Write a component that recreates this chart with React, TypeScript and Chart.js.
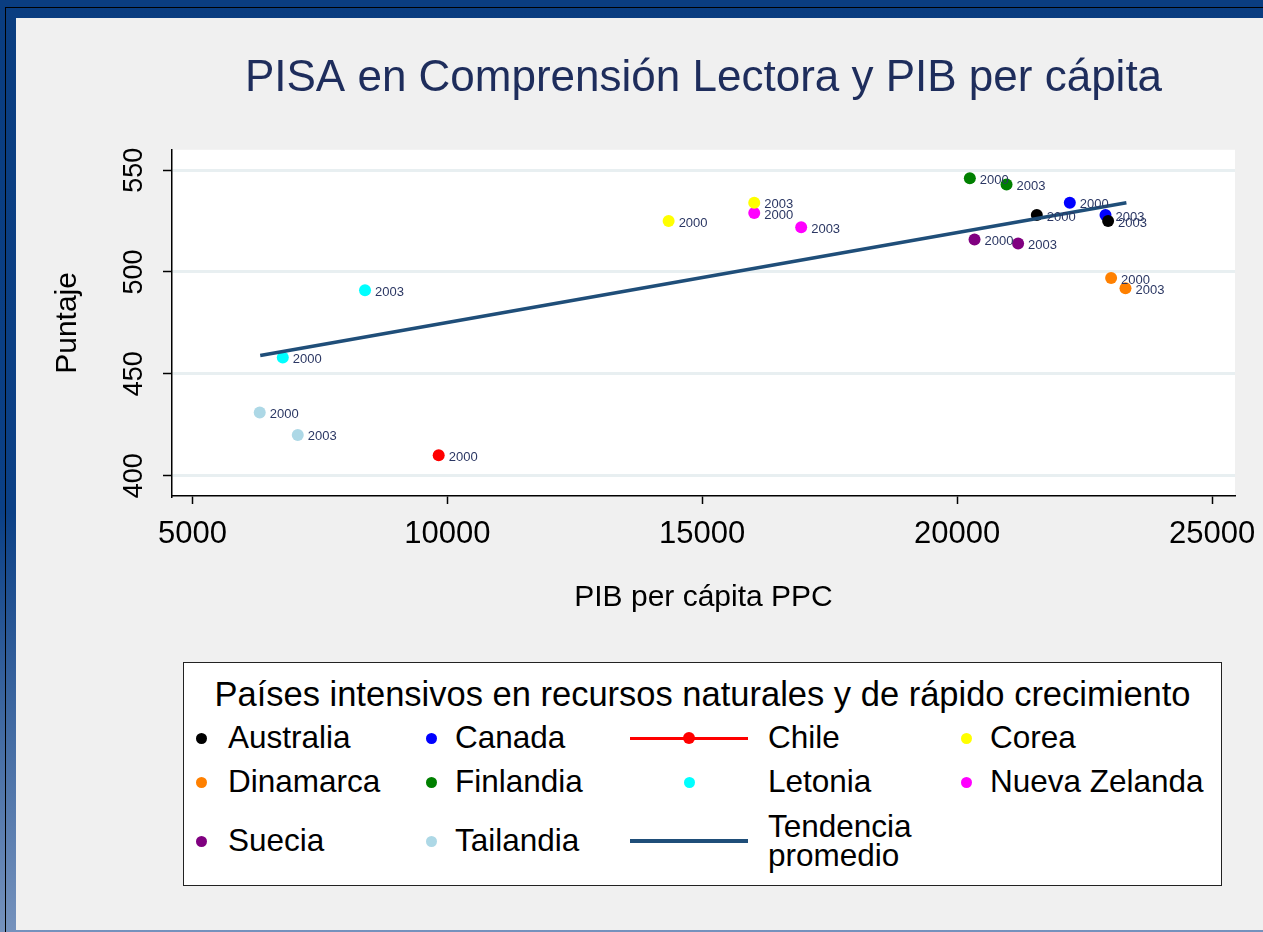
import React, { useEffect, useRef } from 'react';
import { Chart, registerables } from 'chart.js';

Chart.register(...registerables);

// ---------- data ----------
const countries = ['Australia', 'Canada', 'Chile', 'Corea', 'Dinamarca', 'Finlandia', 'Letonia', 'Nueva Zelanda', 'Suecia', 'Tailandia'];
const countryColors = ['#000000', '#0000ff', '#ff0000', '#ffff00', '#ff8000', '#008000', '#00ffff', '#ff00ff', '#800080', '#add8e6'];
const gdp2000 = [21563, 22210, 9831, 14341, 23020, 20249, 6773, 16020, 20341, 6321];
const pisa2000 = [528, 534, 410, 525, 497, 546, 458, 529, 516, 431];
const gdp2003 = [22961, 22910, null, 16020, 23302, 20969, 8386, 16941, 21196, 7067];
const pisa2003 = [525, 528, null, 534, 492, 543, 491, 522, 514, 420];
const yearLabels = ['2000', '2003'];
const trendLabel = ['Tendencia', 'promedio'];
const trendGdp = [6330, 23320];
const trendPisa = [459, 534];
const xTicks = [5000, 10000, 15000, 20000, 25000];
const yTicks = [400, 450, 500, 550];

const chartTitle = 'PISA en Comprensión Lectora y PIB per cápita';
const xTitle = 'PIB per cápita PPC';
const yTitle = 'Puntaje';
const legendTitle = 'Países intensivos en recursos naturales y de rápido crecimiento';

// ---------- styles ----------
const FONT = "'Liberation Sans', Arial, Helvetica, sans-serif";
const trendColor = '#1f4e79';
const labelColor = '#2b3763';
const markerKinds = ['dot', 'dot', 'linedot', 'dot', 'dot', 'dot', 'dot', 'dot', 'dot', 'dot', 'line'];

const plotBg = {
  id: 'plotBg',
  beforeDraw(chart: any) {
    const { ctx, chartArea } = chart;
    ctx.save();
    ctx.fillStyle = '#ffffff';
    ctx.fillRect(chartArea.left, chartArea.top, chartArea.right - chartArea.left, chartArea.bottom - chartArea.top);
    ctx.restore();
  },
};

const pointYears = {
  id: 'pointYears',
  afterDatasetsDraw(chart: any) {
    const { ctx } = chart;
    ctx.save();
    ctx.font = `13px ${FONT}`;
    ctx.fillStyle = labelColor;
    ctx.textAlign = 'left';
    ctx.textBaseline = 'middle';
    chart.data.datasets.forEach((ds: any, i: number) => {
      if (!ds.years) return;
      const meta = chart.getDatasetMeta(i);
      meta.data.forEach((el: any, j: number) => {
        ctx.fillText(ds.years[j], el.x + 10, el.y + 2);
      });
    });
    ctx.restore();
  },
};

function buildDatasets() {
  const trend = {
    type: 'line',
    label: trendLabel.join(' '),
    data: trendGdp.map((x, k) => ({ x, y: trendPisa[k] })),
    borderColor: trendColor,
    borderWidth: 3.5,
    pointRadius: 0,
    fill: false,
  };
  const pts = countries.map((c, i) => {
    const data: any[] = [{ x: gdp2000[i], y: pisa2000[i] }];
    const years: string[] = [yearLabels[0]];
    if (gdp2003[i] != null && pisa2003[i] != null) {
      data.push({ x: gdp2003[i], y: pisa2003[i] });
      years.push(yearLabels[1]);
    }
    return {
      type: 'scatter',
      label: c,
      data,
      years,
      backgroundColor: countryColors[i],
      borderColor: countryColors[i],
      borderWidth: 0,
      pointRadius: 6,
      showLine: false,
    };
  });
  return [trend, ...pts];
}

// legend layout (page coords)
const LEG = { left: 183, top: 662, right: 1222, bottom: 886 };
const colMarkerX = [201, 431, 689, 966];
const colTextX = [228, 455, 768, 990];
const rowY = [738, 782, 841];
const ITEM_FONT = 31.5;

function Legend() {
  const items = [
    ...countries.map((c, i) => ({ label: [c], color: countryColors[i] })),
    { label: trendLabel, color: trendColor },
  ];
  const els: any[] = [];
  items.forEach((it, idx) => {
    const col = idx % 4;
    const row = Math.floor(idx / 4);
    const cy = rowY[row];
    const kind = markerKinds[idx];
    const mx = colMarkerX[col];
    if (kind === 'dot' || kind === 'linedot') {
      const r = kind === 'linedot' ? 6 : 5.5;
      els.push(
        <div key={'d' + idx} style={{ position: 'absolute', left: mx - r, top: cy - r, width: 2 * r, height: 2 * r, borderRadius: '50%', background: it.color, zIndex: 2 }} />
      );
    }
    if (kind === 'linedot' || kind === 'line') {
      const h = kind === 'line' ? 4 : 3;
      els.push(
        <div key={'l' + idx} style={{ position: 'absolute', left: 630, top: cy - h / 2, width: 118, height: h, background: it.color, zIndex: 1 }} />
      );
    }
    const lh = it.label.length > 1 ? 29 : ITEM_FONT;
    els.push(
      <div key={'t' + idx} style={{ position: 'absolute', left: colTextX[col], top: cy - (lh * it.label.length) / 2, fontSize: ITEM_FONT, lineHeight: lh + 'px', color: '#000', whiteSpace: 'nowrap', fontFamily: FONT }}>
        {it.label.map((s, k) => (
          <div key={k}>{s}</div>
        ))}
      </div>
    );
  });
  return (
    <>
      <div style={{ position: 'absolute', left: LEG.left, top: LEG.top, width: LEG.right - LEG.left, height: LEG.bottom - LEG.top, boxSizing: 'border-box', border: '1.5px solid #222', background: '#fff' }} />
      <div style={{ position: 'absolute', left: LEG.left, width: LEG.right - LEG.left, top: 677, textAlign: 'center', fontSize: 34.5, lineHeight: '34.5px', fontFamily: FONT, color: '#000', whiteSpace: 'nowrap' }}>
        {legendTitle}
      </div>
      {els}
    </>
  );
}

export default function App() {
  const canvasRef = useRef<HTMLCanvasElement | null>(null);

  useEffect(() => {
    document.body.style.margin = '0';
    document.body.style.overflow = 'hidden';
    const canvas = canvasRef.current!;
    const chart = new Chart(canvas, {
      type: 'scatter',
      data: { datasets: buildDatasets() as any },
      plugins: [plotBg, pointYears],
      options: {
        animation: false,
        responsive: false,
        maintainAspectRatio: false,
        layout: { padding: { left: 20, right: 28, top: 20, bottom: 24 } },
        plugins: {
          legend: { display: false },
          tooltip: { enabled: false },
          title: {
            display: true,
            text: chartTitle,
            fullSize: false,
            color: '#1e2d5c',
            font: { family: FONT, size: 44, weight: 'normal' },
            padding: { top: 32, bottom: 45 },
          },
        },
        scales: {
          x: {
            type: 'linear',
            position: 'bottom',
            min: 4600,
            max: 25450,
            afterBuildTicks: (s: any) => {
              s.ticks = xTicks.map((v) => ({ value: v }));
            },
            afterFit: (s: any) => {
              s.height = 120;
              s.paddingLeft = 0;
              s.paddingRight = 0;
            },
            ticks: { color: '#000', font: { family: FONT, size: 31 }, padding: 12, maxRotation: 0, minRotation: 0, includeBounds: false, callback: (v: any) => String(v) },
            grid: { drawOnChartArea: false, drawTicks: true, tickColor: '#000', tickLength: 8, tickWidth: 1.5 },
            border: { color: '#000', width: 1.5 },
            title: { display: true, text: xTitle, color: '#000', font: { family: FONT, size: 30 }, padding: { top: 0, bottom: 0 } },
          },
          y: {
            type: 'linear',
            position: 'left',
            min: 390,
            max: 560,
            afterBuildTicks: (s: any) => {
              s.ticks = yTicks.map((v) => ({ value: v }));
            },
            afterFit: (s: any) => {
              s.width = 152;
              s.paddingTop = 0;
              s.paddingBottom = 0;
            },
            ticks: { color: '#000', font: { family: FONT, size: 27 }, padding: 6, minRotation: 90, maxRotation: 90, crossAlign: 'center', includeBounds: false, callback: (v: any) => String(v) },
            grid: { color: '#e8eff1', lineWidth: 3, drawOnChartArea: true, drawTicks: true, tickColor: '#000', tickLength: 9, tickWidth: 1.5 },
            border: { color: '#000', width: 1.5 },
            title: { display: true, text: yTitle, color: '#000', font: { family: FONT, size: 30 }, padding: { top: 30, bottom: 0 } },
          },
        },
      } as any,
    });
    return () => chart.destroy();
  }, []);

  return (
    <div style={{ position: 'relative', width: 1263, height: 932, overflow: 'hidden', background: 'linear-gradient(to bottom, #0a3d80 0%, #0b4086 55%, #7592bd 100%)' }}>
      <div style={{ position: 'absolute', left: 5, top: 7, right: 0, bottom: 0, borderLeft: '1.5px solid #000', borderTop: '1.5px solid #000' }} />
      <div style={{ position: 'absolute', left: 16, top: 18, right: 0, bottom: 2, background: '#f0f0f0' }} />
      <canvas ref={canvasRef} width={1263} height={640} style={{ position: 'absolute', left: 0, top: 0, width: 1263, height: 640 }} />
      <Legend />
    </div>
  );
}
